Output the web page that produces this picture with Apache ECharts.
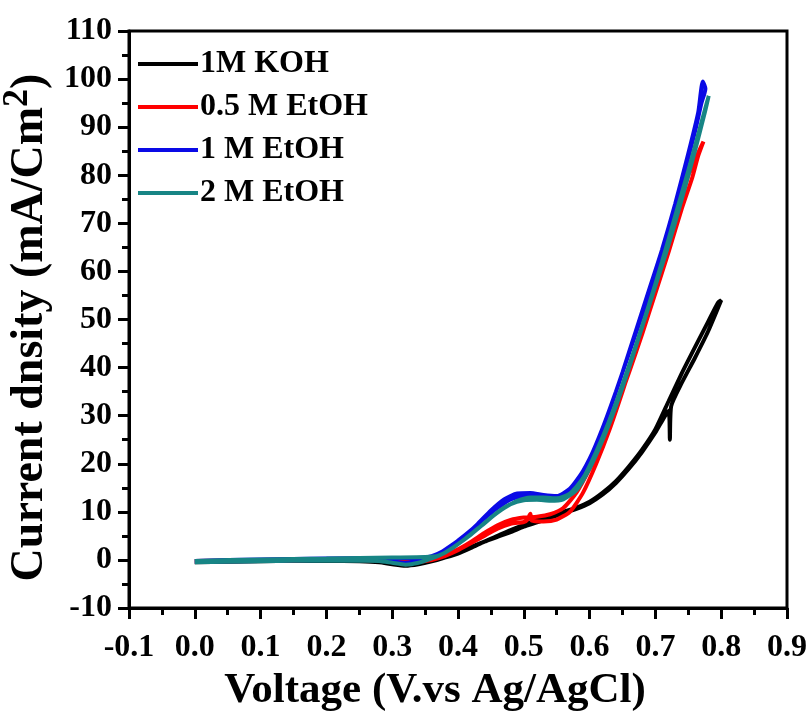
<!DOCTYPE html>
<html>
<head>
<meta charset="utf-8">
<script src="https://cdn.jsdelivr.net/npm/echarts@6/dist/echarts.min.js"></script>
<style>
  html, body { margin: 0; padding: 0; background: #fff; }
  #main { width: 808px; height: 713px; }
</style>
</head>
<body>
<div id="main"></div>
<script>
var legendNames = ['1M KOH', '0.5 M EtOH', '1 M EtOH', '2 M EtOH'];
var lineColors = ['#000000', '#ff0000', '#0a0ae6', '#178585'];

// 1M KOH: forward sweep then reverse sweep
var kohV = [0.00, 0.05, 0.10, 0.15, 0.20, 0.25, 0.28, 0.30, 0.32, 0.34, 0.36, 0.38, 0.40, 0.42, 0.44, 0.46, 0.48, 0.50, 0.52, 0.55, 0.58, 0.60, 0.62, 0.64, 0.66, 0.68, 0.70, 0.72, 0.722, 0.724, 0.74, 0.76, 0.78, 0.80,
            0.795, 0.78, 0.76, 0.74, 0.72, 0.70, 0.68, 0.66, 0.64, 0.62, 0.60, 0.58, 0.55, 0.52, 0.50, 0.48, 0.46, 0.44, 0.42, 0.40, 0.38, 0.36, 0.34, 0.30, 0.25, 0.20, 0.15, 0.10, 0.05, 0.00];
var kohJ = [-0.5, -0.4, -0.3, -0.2, -0.2, -0.3, -0.5, -0.9, -1.2, -0.9, -0.3, 0.5, 1.5, 2.7, 3.8, 4.8, 5.8, 6.9, 7.8, 9.2, 10.6, 11.8, 13.6, 16.0, 19.0, 22.5, 26.5, 31.0, 25.0, 32.0, 36.8, 42.0, 47.5, 54.0,
            53.5, 49.5, 44.2, 38.8, 33.0, 27.2, 23.0, 19.5, 16.4, 14.0, 12.1, 10.9, 9.6, 8.3, 7.3, 6.2, 5.0, 3.8, 2.5, 1.3, 0.5, 0.2, 0.1, 0.2, 0.2, 0.1, 0.0, -0.1, -0.2, -0.3];

// 0.5 M EtOH
var et05V = [0.00, 0.05, 0.10, 0.15, 0.20, 0.25, 0.30, 0.33, 0.36, 0.38, 0.40, 0.42, 0.44, 0.46, 0.48, 0.50, 0.505, 0.51, 0.512, 0.53, 0.55, 0.57, 0.59, 0.61, 0.63, 0.65, 0.67, 0.69, 0.71, 0.73, 0.75, 0.773,
             0.765, 0.756, 0.74, 0.72, 0.70, 0.68, 0.66, 0.64, 0.62, 0.60, 0.58, 0.56, 0.54, 0.52, 0.50, 0.48, 0.46, 0.44, 0.42, 0.40, 0.38, 0.36, 0.30, 0.20, 0.10, 0.00];
var et05J = [-0.4, -0.3, -0.2, -0.1, 0.0, 0.0, -0.2, -0.5, 0.0, 0.8, 2.0, 3.5, 5.0, 6.5, 7.5, 7.9, 8.3, 9.6, 8.2, 8.0, 8.4, 10.0, 14.0, 20.0, 27.0, 35.0, 43.5, 52.0, 61.0, 70.5, 80.0, 87.0,
             84.0, 79.5, 73.0, 64.0, 55.5, 47.0, 39.0, 31.5, 25.0, 19.0, 14.0, 10.8, 9.5, 9.0, 8.8, 8.3, 7.2, 5.6, 3.8, 2.2, 1.0, 0.4, 0.3, 0.2, 0.0, -0.2];

// 1 M EtOH
var et1V = [0.00, 0.10, 0.20, 0.28, 0.32, 0.35, 0.37, 0.39, 0.41, 0.43, 0.45, 0.47, 0.49, 0.51, 0.53, 0.55, 0.57, 0.59, 0.61, 0.63, 0.65, 0.67, 0.69, 0.71, 0.73, 0.75, 0.765, 0.772,
            0.776, 0.77, 0.76, 0.74, 0.72, 0.70, 0.68, 0.66, 0.64, 0.62, 0.60, 0.58, 0.56, 0.54, 0.52, 0.50, 0.48, 0.46, 0.44, 0.42, 0.40, 0.38, 0.36, 0.34, 0.30, 0.20, 0.10, 0.00];
var et1J = [-0.4, -0.2, 0.0, 0.0, -0.6, 0.2, 1.2, 3.0, 5.0, 7.5, 10.3, 12.6, 13.8, 13.9, 13.5, 13.3, 14.8, 18.5, 24.0, 31.0, 39.0, 47.5, 56.0, 64.5, 74.0, 84.5, 93.0, 99.5,
            98.0, 95.0, 89.0, 78.5, 68.5, 59.5, 51.0, 43.0, 35.0, 27.5, 21.0, 16.2, 13.6, 13.0, 13.2, 13.3, 12.6, 10.8, 8.6, 6.2, 4.0, 2.0, 0.8, 0.4, 0.4, 0.3, 0.1, -0.2];

// 2 M EtOH
var et2V = [0.00, 0.10, 0.20, 0.28, 0.30, 0.32, 0.34, 0.36, 0.38, 0.40, 0.42, 0.44, 0.46, 0.48, 0.50, 0.52, 0.54, 0.56, 0.58, 0.60, 0.62, 0.64, 0.66, 0.68, 0.70, 0.72, 0.74, 0.76, 0.775, 0.781,
            0.778, 0.77, 0.75, 0.73, 0.71, 0.69, 0.67, 0.65, 0.63, 0.61, 0.59, 0.57, 0.55, 0.53, 0.51, 0.49, 0.47, 0.45, 0.43, 0.41, 0.39, 0.37, 0.35, 0.30, 0.20, 0.10, 0.00];
var et2J = [-0.5, -0.3, -0.1, -0.2, -0.6, -1.0, -0.6, 0.3, 1.5, 3.3, 5.3, 7.6, 9.9, 11.6, 12.4, 12.5, 12.3, 12.6, 14.5, 19.0, 25.0, 32.0, 40.0, 48.5, 57.0, 65.5, 75.0, 85.0, 93.0, 96.5,
            95.0, 91.0, 81.0, 71.5, 62.0, 53.0, 44.5, 36.5, 29.0, 22.5, 17.0, 13.8, 12.8, 13.0, 13.0, 12.3, 10.8, 8.8, 6.5, 4.3, 2.3, 0.9, 0.6, 0.5, 0.3, 0.1, -0.2];

var xTicks = { min: -0.1, max: 0.9, interval: 0.1 };
var yTicks = { min: -10, max: 110, interval: 10 };

function zip(xs, ys) {
    var out = [];
    for (var i = 0; i < xs.length; i++) {
        out.push([xs[i], ys[i]]);
    }
    return out;
}

var serif = "'Liberation Serif', 'DejaVu Serif', serif";
var chart = echarts.init(document.getElementById('main'));

var curves = [[kohV, kohJ], [et05V, et05J], [et1V, et1J], [et2V, et2J]];
var series = curves.map(function (c, i) {
    return {
        name: legendNames[i],
        type: 'line',
        data: zip(c[0], c[1]),
        showSymbol: false,
        smooth: 0.2,
        lineStyle: { width: 4, color: lineColors[i] },
        itemStyle: { color: lineColors[i] },
        z: 2 + i
    };
});

var option = {
    animation: false,
    backgroundColor: '#fff',
    grid: {
        left: 129, top: 31, right: 21, bottom: 105,
        outerBoundsMode: 'none',
        containLabel: false,
        show: true, borderColor: '#000', borderWidth: 3, backgroundColor: 'transparent'
    },
    legend: {
        orient: 'vertical',
        left: 133,
        top: 43,
        itemWidth: 60,
        itemHeight: 4,
        itemGap: 11,
        icon: 'rect',
        data: legendNames,
        textStyle: { fontFamily: serif, fontWeight: 'bold', fontSize: 32, color: '#000', padding: [0, 0, 0, -3] }
    },
    xAxis: {
        type: 'value',
        min: xTicks.min,
        max: xTicks.max,
        interval: xTicks.interval,
        name: 'Voltage (V.vs Ag/AgCl)',
        nameLocation: 'middle',
        nameGap: 54,
        nameTextStyle: { fontFamily: serif, fontWeight: 'bold', fontSize: 43, color: '#000', padding: [0, 46, 0, 0] },
        axisLine: { onZero: false, lineStyle: { color: '#000', width: 3 } },
        axisTick: { length: 11, lineStyle: { width: 3, color: '#000' } },
        minorTick: { show: true, splitNumber: 2, length: 7, lineStyle: { width: 3, color: '#000' } },
        splitLine: { show: false },
        axisLabel: {
            margin: 24,
            fontFamily: serif, fontWeight: 'bold', fontSize: 32, color: '#000',
            formatter: function (v) { return v.toFixed(1); }
        }
    },
    yAxis: {
        type: 'value',
        min: yTicks.min,
        max: yTicks.max,
        interval: yTicks.interval,
        name: 'Current dnsity (mA/Cm{sup|2})',
        nameLocation: 'middle',
        nameRotate: 90,
        nameGap: 50,
        nameTextStyle: {
            fontFamily: serif, fontWeight: 'bold', fontSize: 46, color: '#000',
            padding: [0, 16, 0, 0],
            rich: {
                sup: { fontFamily: serif, fontWeight: 'bold', fontSize: 36, color: '#000', padding: [0, 0, 24, 0] }
            }
        },
        axisLine: { onZero: false, lineStyle: { color: '#000', width: 3 } },
        axisTick: { length: 11, lineStyle: { width: 3, color: '#000' } },
        minorTick: { show: true, splitNumber: 2, length: 7, lineStyle: { width: 3, color: '#000' } },
        splitLine: { show: false },
        axisLabel: { margin: 17, fontFamily: serif, fontWeight: 'bold', fontSize: 32, color: '#000' }
    },
    series: series
};

chart.setOption(option);
</script>
</body>
</html>
